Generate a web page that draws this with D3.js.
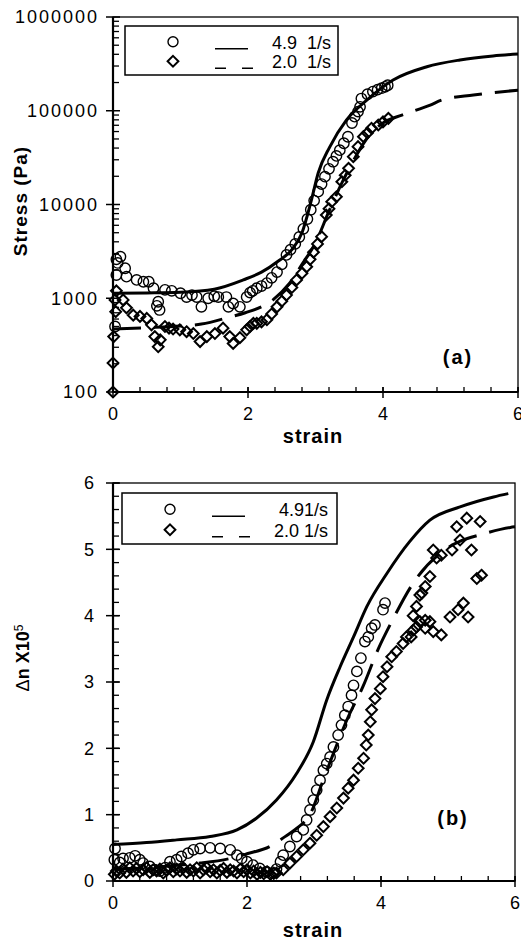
<!DOCTYPE html>
<meta charset="utf-8">
<script src="https://cdn.jsdelivr.net/npm/d3@7/dist/d3.min.js"></script>
<style>
body { margin: 0; background: #fff; }
text { font-family: Arial, "Liberation Sans", sans-serif; fill: #000; }
.tick-label { font-size: 18px; }
.title { font-size: 18px; font-weight: bold; }
path.line { fill: none; stroke: #000; stroke-width: 3px; }
</style>
<body>
<script>

// ---- panel (a): stress vs strain ----
var stressLineStrainFast = [0, 0.5, 1.0, 1.5, 1.93, 2.2, 2.45, 2.65, 2.8, 2.94, 3.04, 3.21, 3.46, 3.76, 4.15, 4.65, 5.14, 5.63, 6.0];
var stressLineFast = [1130, 1140, 1160, 1250, 1570, 1900, 2500, 3300, 5000, 11200, 21700, 41000, 80000, 130000, 213000, 295000, 348000, 384000, 403000];

var stressLineStrainSlow = [0, 0.5, 1.0, 1.31, 1.73, 1.96, 2.37, 2.6, 2.8, 3.0, 3.2, 3.4, 3.6, 3.8, 4.0, 4.28, 4.7, 4.87, 5.34, 5.53, 6.0];
var stressLineSlow = [470, 485, 505, 530, 630, 700, 960, 1400, 2300, 3900, 8500, 17500, 33000, 55000, 74000, 90000, 115000, 130000, 147000, 153000, 166000];

var stressCircles = [[0.03,500],[0.05,2600],[0.07,2380],[0.11,2770],[0.05,1770],[0.18,2090],[0.2,1700],[0.35,1570],[0.45,1500],
  [0.53,1500],[0.6,1280],[0.65,830],[0.67,918],[0.69,750],[0.77,1230],[0.87,1200],[1.0,1130],[1.09,1030],[1.17,1080],
  [1.24,1030],[1.31,810],[1.41,1000],[1.5,1050],[1.56,1030],[1.68,1030],[1.71,810],[1.78,880],[1.88,810],[1.98,1030],
  [2.03,1150],[2.07,1200],[2.13,1280],[2.2,1350],[2.28,1450],[2.35,1650],[2.43,1900],[2.5,2300],[2.57,2900],[2.63,3300],
  [2.7,3800],[2.76,4500],[2.82,5500],[2.88,7000],[2.93,8800],[2.98,11000],[3.04,13700],[3.09,16500],[3.14,19800],[3.2,24000],
  [3.26,28600],[3.31,33000],[3.36,38000],[3.42,45000],[3.48,52800],[3.54,74000],[3.58,86500],[3.63,98000],[3.66,110000],
  [3.68,135000],[3.77,150000],[3.85,160000],[3.92,168000],[3.98,174000],[4.03,180000],[4.07,187000]];

var stressDiamonds = [[0,100],[0,204],[0.01,390],[0.03,960],[0.05,1200],[0.04,720],[0.15,960],[0.2,790],[0.3,660],[0.4,640],
  [0.5,610],[0.57,520],[0.62,390],[0.67,304],[0.7,360],[0.77,500],[0.83,480],[0.89,470],[0.99,460],[1.09,440],[1.19,420],
  [1.29,345],[1.39,390],[1.51,420],[1.63,480],[1.73,390],[1.78,330],[1.88,380],[1.98,460],[2.03,500],[2.08,540],[2.13,540],
  [2.2,560],[2.28,590],[2.35,680],[2.43,810],[2.5,930],[2.57,1080],[2.65,1300],[2.72,1570],[2.8,1850],[2.87,2170],[2.92,2600],
  [2.97,3100],[3.03,3800],[3.09,4540],[3.16,7720],[3.2,9000],[3.24,10700],[3.31,12100],[3.39,17500],[3.44,20500],[3.49,24300],
  [3.56,32400],[3.63,41400],[3.71,52900],[3.77,58000],[3.83,65000],[3.93,70500],[4.0,76000],[4.08,83000]];

var stressTicks = [100, 1000, 10000, 100000, 1000000];
var strainTicks = [0, 2, 4, 6];
var legendA = ["4.9  1/s", "2.0  1/s"];

// ---- panel (b): birefringence vs strain ----
var biref_strainFast = [0, 0.5, 0.95, 1.45, 1.85, 2.14, 2.44, 2.74, 2.99, 3.19, 3.39, 3.59, 3.79, 4.09, 4.43, 4.73, 5.18, 5.68, 5.9];
var birefLineFast = [0.55, 0.58, 0.62, 0.67, 0.77, 0.945, 1.22, 1.62, 2.1, 2.73, 3.23, 3.68, 4.14, 4.64, 5.12, 5.44, 5.64, 5.79, 5.84];

var biref_strainSlow = [0, 0.5, 1.0, 1.3, 1.75, 2.0, 2.34, 2.54, 2.75, 2.94, 3.13, 3.3, 3.5, 3.73, 3.96, 4.16, 4.48, 4.88, 5.2, 5.48, 5.93, 6.0];
var birefLineSlow = [0.18, 0.2, 0.24, 0.27, 0.34, 0.41, 0.52, 0.65, 0.8, 1.0, 1.5, 1.95, 2.45, 2.93, 3.5, 3.91, 4.49, 4.94, 5.13, 5.22, 5.33, 5.34];

var birefCircles = [[0.03,0.49],[0.02,0.32],[0.1,0.28],[0.15,0.34],[0.25,0.35],[0.33,0.38],[0.4,0.32],[0.45,0.27],[0.55,0.22],
  [0.62,0.17],[0.7,0.15],[0.78,0.2],[0.85,0.29],[0.95,0.32],[1.02,0.37],[1.12,0.42],[1.2,0.47],[1.3,0.49],[1.45,0.5],[1.6,0.49],
  [1.75,0.47],[1.85,0.39],[1.92,0.34],[2.0,0.29],[2.09,0.24],[2.19,0.19],[2.29,0.14],[2.39,0.12],[2.44,0.18],[2.5,0.29],
  [2.54,0.39],[2.64,0.52],[2.74,0.67],[2.84,0.77],[2.89,0.92],[2.94,1.07],[2.99,1.22],[3.04,1.37],[3.09,1.52],[3.14,1.67],
  [3.19,1.77],[3.24,1.87],[3.29,2.02],[3.36,2.2],[3.41,2.35],[3.46,2.5],[3.51,2.63],[3.56,2.8],[3.59,2.95],[3.64,3.16],
  [3.7,3.36],[3.76,3.61],[3.81,3.68],[3.86,3.81],[3.91,3.86],[4.03,4.09],[4.06,4.19]];

var birefDiamonds = [[0.02,0.1],[0.05,0.15],[0.1,0.12],[0.15,0.18],[0.2,0.13],[0.25,0.2],[0.3,0.15],[0.35,0.19],[0.4,0.14],
  [0.45,0.17],[0.5,0.2],[0.55,0.13],[0.6,0.17],[0.65,0.15],[0.7,0.18],[0.75,0.12],[0.8,0.16],[0.85,0.2],[0.9,0.14],[0.95,0.18],
  [1.0,0.15],[1.05,0.2],[1.1,0.13],[1.15,0.17],[1.2,0.15],[1.25,0.2],[1.3,0.12],[1.35,0.17],[1.4,0.2],[1.45,0.14],[1.5,0.17],
  [1.55,0.12],[1.6,0.16],[1.65,0.19],[1.7,0.13],[1.75,0.17],[1.8,0.15],[1.85,0.12],[1.9,0.18],[1.95,0.14],[2.0,0.17],
  [2.05,0.12],[2.1,0.15],[2.15,0.1],[2.2,0.13],[2.25,0.11],[2.3,0.14],[2.35,0.1],[2.4,0.12],
  [2.44,0.12],[2.54,0.17],[2.64,0.27],[2.74,0.37],[2.84,0.47],[2.94,0.57],[3.04,0.69],[3.14,0.82],[3.24,0.97],[3.34,1.1],
  [3.44,1.25],[3.51,1.4],[3.59,1.52],[3.66,1.7],[3.74,1.85],[3.78,2.05],[3.81,2.2],[3.84,2.4],[3.86,2.58],[3.91,2.75],
  [3.99,2.9],[4.03,3.08],[4.09,3.23],[4.16,3.38],[4.23,3.46],[4.33,3.58],[4.38,3.68],[4.45,3.68],[4.48,3.78],[4.53,3.83],
  [4.58,3.91],[4.66,3.81],[4.66,3.93],[4.73,3.91],[4.78,3.76],[4.9,3.71],[5.03,3.98],[5.15,4.09],[5.23,4.19],[5.3,3.98],
  [4.48,4.0],[4.53,4.14],[4.61,4.34],[4.58,4.31],[4.66,4.44],[4.73,4.59],[4.83,4.87],[4.78,4.99],[4.9,4.91],[5.06,4.99],
  [5.18,5.14],[5.13,5.34],[5.28,5.47],[5.48,5.42],[5.35,4.99],[5.43,4.56],[5.5,4.61]];

var birefTicks = [0, 1, 2, 3, 4, 5, 6];
var legendB = ["4.91/s", "2.0 1/s"];

var width = 521, height = 947;

var svg = d3.select("body").append("svg")
    .attr("width", width)
    .attr("height", height);

var diamond = d3.symbol().type(d3.symbolDiamond2).size(74);

function drawFrame(g, x, y) {
  var r = x.range(), h = y.range();
  g.append("rect")
      .attr("x", r[0]).attr("y", h[1])
      .attr("width", r[1] - r[0]).attr("height", h[0] - h[1])
      .style("fill", "none").style("stroke", "#000").style("stroke-width", 1.3);
  g.append("line").attr("x1", r[0]).attr("x2", r[0]).attr("y1", h[0]).attr("y2", h[1])
      .style("stroke", "#000").style("stroke-width", 2.2);
  g.append("line").attr("x1", r[0]).attr("x2", r[1]).attr("y1", h[0]).attr("y2", h[0])
      .style("stroke", "#000").style("stroke-width", 2.2);
}

function drawXAxis(g, x, y) {
  var base = y.range()[0];
  var minor = d3.range(0, 6.001, 0.4);
  g.selectAll(".xminor").data(minor).enter().append("line")
      .attr("x1", x).attr("x2", x)
      .attr("y1", base).attr("y2", base - 5)
      .style("stroke", "#000").style("stroke-width", 1.3);
  g.selectAll(".xmajor").data(strainTicks).enter().append("line")
      .attr("x1", x).attr("x2", x)
      .attr("y1", base - 5).attr("y2", base + 6)
      .style("stroke", "#000").style("stroke-width", 1.5);
  g.selectAll(".xlab").data(strainTicks).enter().append("text")
      .attr("class", "tick-label")
      .attr("x", x).attr("y", base + 28)
      .attr("text-anchor", "middle")
      .text(function(d) { return d; });
}

function drawMarkers(g, x, y, circles, diamonds) {
  g.selectAll(".circ").data(circles).enter().append("circle")
      .attr("cx", function(d) { return x(d[0]); })
      .attr("cy", function(d) { return y(d[1]); })
      .attr("r", 5.2)
      .style("fill", "none").style("stroke", "#000").style("stroke-width", 1.4);
  g.selectAll(".diam").data(diamonds).enter().append("path")
      .attr("d", diamond)
      .attr("transform", function(d) { return "translate(" + x(d[0]) + "," + y(d[1]) + ")"; })
      .style("fill", "none").style("stroke", "#000").style("stroke-width", 2);
}

function drawLegend(g, bx, by, bw, bh, labels) {
  g.append("rect").attr("x", bx).attr("y", by).attr("width", bw).attr("height", bh)
      .style("fill", "#fff").style("stroke", "#000").style("stroke-width", 1.5);
  var row = [by + bh * 0.32, by + bh * 0.72];
  g.append("circle").attr("cx", bx + 48).attr("cy", row[0]).attr("r", 5)
      .style("fill", "none").style("stroke", "#000").style("stroke-width", 1.4);
  g.append("path").attr("d", diamond).attr("transform", "translate(" + (bx + 48) + "," + row[1] + ")")
      .style("fill", "none").style("stroke", "#000").style("stroke-width", 2);
  g.append("line").attr("x1", bx + 90).attr("x2", bx + 123).attr("y1", row[0] + 7).attr("y2", row[0] + 7)
      .style("stroke", "#000").style("stroke-width", 1.4);
  g.append("line").attr("x1", bx + 90).attr("x2", bx + 128).attr("y1", row[1] + 7).attr("y2", row[1] + 7)
      .style("stroke", "#000").style("stroke-width", 1.4).style("stroke-dasharray", "11,16");
  g.selectAll(".leg").data(labels).enter().append("text")
      .attr("class", "tick-label")
      .attr("x", bx + 206).attr("y", function(d, i) { return row[i] + 7; })
      .attr("text-anchor", "end")
      .style("white-space", "pre")
      .text(function(d) { return d; });
}

// ===== panel (a) =====
var xa = d3.scaleLinear().domain([0, 6]).range([113, 518]);
var ya = d3.scaleLog().domain([100, 1000000]).range([392, 17]);
var ga = svg.append("g");

var minorA = [];
stressTicks.slice(0, -1).forEach(function(t) { for (var k = 2; k < 10; k++) minorA.push(t * k); });
ga.selectAll(".yminor").data(minorA).enter().append("line")
    .attr("x1", 113).attr("x2", 119)
    .attr("y1", ya).attr("y2", ya)
    .style("stroke", "#000").style("stroke-width", 1.3);
ga.selectAll(".ymajor").data(stressTicks).enter().append("line")
    .attr("x1", 106).attr("x2", 120)
    .attr("y1", ya).attr("y2", ya)
    .style("stroke", "#000").style("stroke-width", 1.5);
ga.selectAll(".ylab").data(stressTicks).enter().append("text")
    .attr("class", "tick-label")
    .attr("x", 99).attr("y", ya)
    .attr("dy", "0.36em")
    .attr("text-anchor", "end")
    .style("letter-spacing", "2px")
    .text(function(d) { return d; });

drawXAxis(ga, xa, ya);

var lineA = d3.line().x(function(d) { return xa(d[0]); }).y(function(d) { return ya(d[1]); }).curve(d3.curveMonotoneX);
ga.append("path").attr("class", "line")
    .attr("d", lineA(d3.zip(stressLineStrainFast, stressLineFast)));
ga.append("path").attr("class", "line")
    .style("stroke-dasharray", "28,13")
    .attr("d", lineA(d3.zip(stressLineStrainSlow, stressLineSlow)));

drawMarkers(ga, xa, ya, stressCircles, stressDiamonds);
drawFrame(ga, xa, ya);
drawLegend(ga, 125, 26, 213, 49, legendA);

ga.append("text").attr("class", "title")
    .attr("transform", "translate(27,201) rotate(-90)")
    .attr("text-anchor", "middle")
    .style("font-size", "19px").style("letter-spacing", "1px")
    .text("Stress (Pa)");
ga.append("text").attr("class", "title")
    .attr("x", 313).attr("y", 443)
    .attr("text-anchor", "middle")
    .style("font-size", "20px").style("letter-spacing", "1px")
    .text("strain");
ga.append("text").attr("class", "title")
    .attr("x", 458).attr("y", 364)
    .attr("text-anchor", "middle")
    .style("font-size", "20px").style("letter-spacing", "2px")
    .text("(a)");

// ===== panel (b) =====
var xb = d3.scaleLinear().domain([0, 6]).range([113, 515]);
var yb = d3.scaleLinear().domain([0, 6]).range([881, 483]);
var gb = svg.append("g");

gb.selectAll(".yminor").data(d3.range(0, 6.001, 0.2)).enter().append("line")
    .attr("x1", 113).attr("x2", 119)
    .attr("y1", yb).attr("y2", yb)
    .style("stroke", "#000").style("stroke-width", 1.3);
gb.selectAll(".ymajor").data(birefTicks).enter().append("line")
    .attr("x1", 106).attr("x2", 120)
    .attr("y1", yb).attr("y2", yb)
    .style("stroke", "#000").style("stroke-width", 1.5);
gb.selectAll(".ylab").data(birefTicks).enter().append("text")
    .attr("class", "tick-label")
    .attr("x", 94).attr("y", yb)
    .attr("dy", "0.36em")
    .attr("text-anchor", "end")
    .text(function(d) { return d; });

drawXAxis(gb, xb, yb);

var lineB = d3.line().x(function(d) { return xb(d[0]); }).y(function(d) { return yb(d[1]); }).curve(d3.curveMonotoneX);
gb.append("path").attr("class", "line")
    .attr("d", lineB(d3.zip(biref_strainFast, birefLineFast)));
gb.append("path").attr("class", "line")
    .style("stroke-dasharray", "30,13")
    .attr("d", lineB(d3.zip(biref_strainSlow, birefLineSlow)));

drawMarkers(gb, xb, yb, birefCircles, birefDiamonds);
drawFrame(gb, xb, yb);
drawLegend(gb, 122, 493, 215, 51, legendB);

var yt = gb.append("text").attr("class", "title")
    .attr("transform", "translate(29,658) rotate(-90)")
    .attr("text-anchor", "middle");
yt.append("tspan").style("font-weight", "normal").text("\u0394");
yt.append("tspan").text("n X10");
yt.append("tspan").attr("dy", "-0.5em").style("font-size", "12px").style("font-weight", "normal").text("5");

gb.append("text").attr("class", "title")
    .attr("x", 313).attr("y", 937)
    .attr("text-anchor", "middle")
    .style("font-size", "20px").style("letter-spacing", "1px")
    .text("strain");
gb.append("text").attr("class", "title")
    .attr("x", 453).attr("y", 825)
    .attr("text-anchor", "middle")
    .style("font-size", "20px").style("letter-spacing", "2px")
    .text("(b)");

</script>
</body>
